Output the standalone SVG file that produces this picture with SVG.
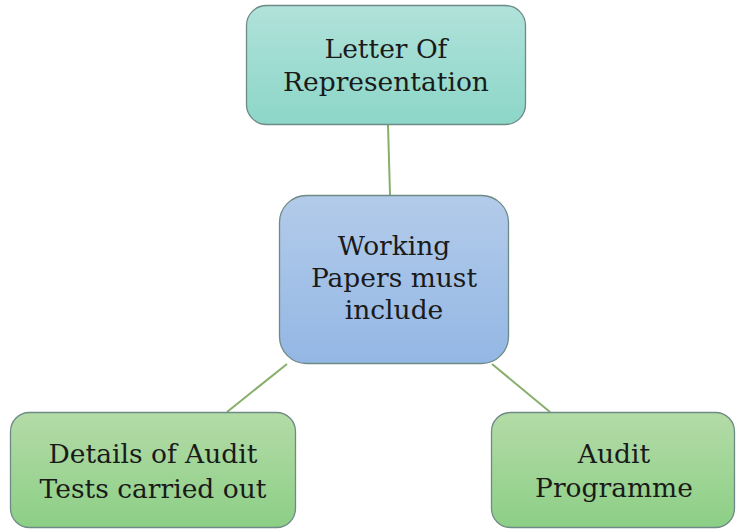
<svg xmlns="http://www.w3.org/2000/svg" width="736" height="529" viewBox="0 0 736 529">
<defs>
<linearGradient id="gTeal" x1="0" y1="0" x2="0" y2="1">
<stop offset="0" stop-color="#b0e2da"/>
<stop offset="1" stop-color="#8cd6c8"/>
</linearGradient>
<linearGradient id="gBlue" x1="0" y1="0" x2="0" y2="1">
<stop offset="0" stop-color="#b3cbea"/>
<stop offset="1" stop-color="#93b7e4"/>
</linearGradient>
<linearGradient id="gGreen" x1="0" y1="0" x2="0" y2="1">
<stop offset="0" stop-color="#b4dba7"/>
<stop offset="1" stop-color="#8ccf86"/>
</linearGradient>
</defs>
<style>
.box{stroke:#6e8a86;stroke-width:1.3;}
.lbl{font-family:"DejaVu Serif","Liberation Serif",serif;font-size:26.5px;fill:#1a1a1a;text-anchor:middle;}
.conn line{stroke:#86b06a;stroke-width:2;}
</style>
<rect width="736" height="529" fill="#ffffff"/>
<g class="conn" id="connectors">
<line x1="388" y1="125" x2="390" y2="195"/>
<line x1="287" y1="364" x2="227" y2="412"/>
<line x1="492" y1="364" x2="550" y2="412"/>
</g>
<g id="n-letter">
<rect class="box" x="246.5" y="5.5" width="279" height="119" rx="20" fill="url(#gTeal)"/>
<text class="lbl" x="386" y="58">Letter Of</text>
<text class="lbl" x="386" y="91">Representation</text>
</g>
<g id="n-working">
<rect class="box" x="279.5" y="195.5" width="229" height="168" rx="27" fill="url(#gBlue)" stroke="#7289a8"/>
<text class="lbl" x="394" y="255">Working</text>
<text class="lbl" x="394" y="287">Papers must</text>
<text class="lbl" x="394" y="319">include</text>
</g>
<g id="n-details">
<rect class="box" x="10.5" y="412.5" width="285" height="115" rx="19" fill="url(#gGreen)" stroke="#7a9270"/>
<text class="lbl" x="153" y="463">Details of Audit</text>
<text class="lbl" x="153" y="498">Tests carried out</text>
</g>
<g id="n-programme">
<rect class="box" x="491.5" y="412.5" width="243" height="115" rx="19" fill="url(#gGreen)" stroke="#7a9270"/>
<text class="lbl" x="614" y="463">Audit</text>
<text class="lbl" x="614" y="497">Programme</text>
</g>
</svg>
